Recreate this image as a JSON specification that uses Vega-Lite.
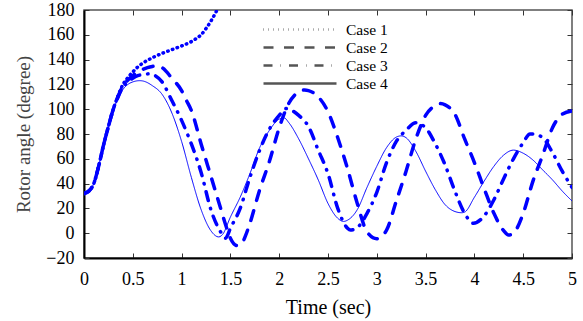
{
  "$schema": "https://vega.github.io/schema/vega-lite/v6.json",
  "width": 488,
  "height": 248,
  "autosize": "none",
  "padding": {"left": 84, "top": 10, "right": 11, "bottom": 63},
  "background": "white",
  "config": {
    "view": {"stroke": "#555", "strokeWidth": 1.5},
    "font": "Liberation Serif",
    "axis": {"labelFont": "Liberation Serif", "titleFont": "Liberation Serif"},
    "legend": {"labelFont": "Liberation Serif", "titleFont": "Liberation Serif"}
  },
  "datasets": {
    "curves": [
      {"case": "Case 1", "time": 0, "angle": 32}, {"case": "Case 1", "time": 0.05, "angle": 34}, {"case": "Case 1", "time": 0.1, "angle": 40}, {"case": "Case 1", "time": 0.15, "angle": 54}, {"case": "Case 1", "time": 0.2, "angle": 71}, {"case": "Case 1", "time": 0.25, "angle": 86}, {"case": "Case 1", "time": 0.3, "angle": 100}, {"case": "Case 1", "time": 0.35, "angle": 111}, {"case": "Case 1", "time": 0.4, "angle": 120}, {"case": "Case 1", "time": 0.45, "angle": 125.5}, {"case": "Case 1", "time": 0.5, "angle": 130}, {"case": "Case 1", "time": 0.55, "angle": 134}, {"case": "Case 1", "time": 0.6, "angle": 137}, {"case": "Case 1", "time": 0.7, "angle": 141.5}, {"case": "Case 1", "time": 0.8, "angle": 145}, {"case": "Case 1", "time": 0.9, "angle": 148}, {"case": "Case 1", "time": 1.0, "angle": 151}, {"case": "Case 1", "time": 1.1, "angle": 154.5}, {"case": "Case 1", "time": 1.15, "angle": 157}, {"case": "Case 1", "time": 1.2, "angle": 160}, {"case": "Case 1", "time": 1.25, "angle": 165}, {"case": "Case 1", "time": 1.3, "angle": 171}, {"case": "Case 1", "time": 1.35, "angle": 178}, {"case": "Case 1", "time": 1.4, "angle": 186},

      {"case": "Case 2", "time": 0, "angle": 32}, {"case": "Case 2", "time": 0.05, "angle": 34}, {"case": "Case 2", "time": 0.1, "angle": 40}, {"case": "Case 2", "time": 0.15, "angle": 54}, {"case": "Case 2", "time": 0.2, "angle": 71}, {"case": "Case 2", "time": 0.25, "angle": 86}, {"case": "Case 2", "time": 0.3, "angle": 100}, {"case": "Case 2", "time": 0.35, "angle": 110.5}, {"case": "Case 2", "time": 0.4, "angle": 119}, {"case": "Case 2", "time": 0.45, "angle": 123.5}, {"case": "Case 2", "time": 0.5, "angle": 127}, {"case": "Case 2", "time": 0.55, "angle": 130}, {"case": "Case 2", "time": 0.6, "angle": 132}, {"case": "Case 2", "time": 0.65, "angle": 133.5}, {"case": "Case 2", "time": 0.7, "angle": 134.5}, {"case": "Case 2", "time": 0.75, "angle": 135}, {"case": "Case 2", "time": 0.8, "angle": 133.5}, {"case": "Case 2", "time": 0.9, "angle": 125}, {"case": "Case 2", "time": 1.0, "angle": 115}, {"case": "Case 2", "time": 1.05, "angle": 107}, {"case": "Case 2", "time": 1.1, "angle": 99}, {"case": "Case 2", "time": 1.2, "angle": 72}, {"case": "Case 2", "time": 1.3, "angle": 46}, {"case": "Case 2", "time": 1.4, "angle": 20}, {"case": "Case 2", "time": 1.45, "angle": 7}, {"case": "Case 2", "time": 1.5, "angle": -4}, {"case": "Case 2", "time": 1.57, "angle": -10}, {"case": "Case 2", "time": 1.62, "angle": -8}, {"case": "Case 2", "time": 1.65, "angle": -3}, {"case": "Case 2", "time": 1.7, "angle": 8}, {"case": "Case 2", "time": 1.8, "angle": 35}, {"case": "Case 2", "time": 1.9, "angle": 58}, {"case": "Case 2", "time": 2.0, "angle": 85}, {"case": "Case 2", "time": 2.1, "angle": 105}, {"case": "Case 2", "time": 2.2, "angle": 114}, {"case": "Case 2", "time": 2.26, "angle": 115.5}, {"case": "Case 2", "time": 2.3, "angle": 115}, {"case": "Case 2", "time": 2.4, "angle": 110}, {"case": "Case 2", "time": 2.5, "angle": 98}, {"case": "Case 2", "time": 2.6, "angle": 77}, {"case": "Case 2", "time": 2.7, "angle": 52}, {"case": "Case 2", "time": 2.8, "angle": 24}, {"case": "Case 2", "time": 2.9, "angle": 1}, {"case": "Case 2", "time": 3.0, "angle": -4.5}, {"case": "Case 2", "time": 3.1, "angle": 2.5}, {"case": "Case 2", "time": 3.2, "angle": 26}, {"case": "Case 2", "time": 3.3, "angle": 50}, {"case": "Case 2", "time": 3.4, "angle": 76}, {"case": "Case 2", "time": 3.5, "angle": 95}, {"case": "Case 2", "time": 3.6, "angle": 103}, {"case": "Case 2", "time": 3.65, "angle": 104.5}, {"case": "Case 2", "time": 3.7, "angle": 103.5}, {"case": "Case 2", "time": 3.8, "angle": 96}, {"case": "Case 2", "time": 3.9, "angle": 76}, {"case": "Case 2", "time": 4.0, "angle": 57}, {"case": "Case 2", "time": 4.1, "angle": 36}, {"case": "Case 2", "time": 4.2, "angle": 16}, {"case": "Case 2", "time": 4.3, "angle": 2}, {"case": "Case 2", "time": 4.35, "angle": -1.5}, {"case": "Case 2", "time": 4.4, "angle": 0}, {"case": "Case 2", "time": 4.5, "angle": 16}, {"case": "Case 2", "time": 4.6, "angle": 42}, {"case": "Case 2", "time": 4.7, "angle": 63}, {"case": "Case 2", "time": 4.8, "angle": 85}, {"case": "Case 2", "time": 4.9, "angle": 96}, {"case": "Case 2", "time": 5.0, "angle": 98.5},

      {"case": "Case 3", "time": 0, "angle": 32}, {"case": "Case 3", "time": 0.05, "angle": 34}, {"case": "Case 3", "time": 0.1, "angle": 40}, {"case": "Case 3", "time": 0.15, "angle": 54}, {"case": "Case 3", "time": 0.2, "angle": 71}, {"case": "Case 3", "time": 0.25, "angle": 86}, {"case": "Case 3", "time": 0.3, "angle": 100}, {"case": "Case 3", "time": 0.35, "angle": 110}, {"case": "Case 3", "time": 0.4, "angle": 118}, {"case": "Case 3", "time": 0.45, "angle": 122}, {"case": "Case 3", "time": 0.5, "angle": 125}, {"case": "Case 3", "time": 0.55, "angle": 127}, {"case": "Case 3", "time": 0.6, "angle": 128}, {"case": "Case 3", "time": 0.66, "angle": 128.5}, {"case": "Case 3", "time": 0.7, "angle": 128}, {"case": "Case 3", "time": 0.8, "angle": 122}, {"case": "Case 3", "time": 0.9, "angle": 107}, {"case": "Case 3", "time": 1.0, "angle": 91}, {"case": "Case 3", "time": 1.07, "angle": 78}, {"case": "Case 3", "time": 1.1, "angle": 72}, {"case": "Case 3", "time": 1.2, "angle": 49}, {"case": "Case 3", "time": 1.3, "angle": 19}, {"case": "Case 3", "time": 1.4, "angle": 1}, {"case": "Case 3", "time": 1.45, "angle": -4}, {"case": "Case 3", "time": 1.5, "angle": 4}, {"case": "Case 3", "time": 1.6, "angle": 20}, {"case": "Case 3", "time": 1.7, "angle": 45}, {"case": "Case 3", "time": 1.8, "angle": 67}, {"case": "Case 3", "time": 1.9, "angle": 84}, {"case": "Case 3", "time": 2.0, "angle": 95}, {"case": "Case 3", "time": 2.07, "angle": 100.5}, {"case": "Case 3", "time": 2.1, "angle": 100}, {"case": "Case 3", "time": 2.2, "angle": 95}, {"case": "Case 3", "time": 2.3, "angle": 86}, {"case": "Case 3", "time": 2.4, "angle": 67}, {"case": "Case 3", "time": 2.5, "angle": 48}, {"case": "Case 3", "time": 2.6, "angle": 20}, {"case": "Case 3", "time": 2.7, "angle": 4}, {"case": "Case 3", "time": 2.73, "angle": 2.5}, {"case": "Case 3", "time": 2.8, "angle": 4.5}, {"case": "Case 3", "time": 2.9, "angle": 16}, {"case": "Case 3", "time": 3.0, "angle": 33}, {"case": "Case 3", "time": 3.1, "angle": 57}, {"case": "Case 3", "time": 3.2, "angle": 74}, {"case": "Case 3", "time": 3.3, "angle": 83}, {"case": "Case 3", "time": 3.4, "angle": 89}, {"case": "Case 3", "time": 3.5, "angle": 85}, {"case": "Case 3", "time": 3.6, "angle": 72}, {"case": "Case 3", "time": 3.7, "angle": 55}, {"case": "Case 3", "time": 3.8, "angle": 34}, {"case": "Case 3", "time": 3.9, "angle": 16}, {"case": "Case 3", "time": 3.99, "angle": 8}, {"case": "Case 3", "time": 4.1, "angle": 14}, {"case": "Case 3", "time": 4.2, "angle": 27}, {"case": "Case 3", "time": 4.3, "angle": 44}, {"case": "Case 3", "time": 4.4, "angle": 60}, {"case": "Case 3", "time": 4.5, "angle": 73}, {"case": "Case 3", "time": 4.57, "angle": 80}, {"case": "Case 3", "time": 4.6, "angle": 80}, {"case": "Case 3", "time": 4.7, "angle": 77}, {"case": "Case 3", "time": 4.8, "angle": 65}, {"case": "Case 3", "time": 4.9, "angle": 50}, {"case": "Case 3", "time": 5.0, "angle": 37},

      {"case": "Case 4", "time": 0, "angle": 32}, {"case": "Case 4", "time": 0.05, "angle": 34}, {"case": "Case 4", "time": 0.1, "angle": 40}, {"case": "Case 4", "time": 0.15, "angle": 54}, {"case": "Case 4", "time": 0.2, "angle": 71}, {"case": "Case 4", "time": 0.25, "angle": 86}, {"case": "Case 4", "time": 0.3, "angle": 99}, {"case": "Case 4", "time": 0.35, "angle": 109}, {"case": "Case 4", "time": 0.4, "angle": 116}, {"case": "Case 4", "time": 0.45, "angle": 120}, {"case": "Case 4", "time": 0.5, "angle": 122}, {"case": "Case 4", "time": 0.57, "angle": 123}, {"case": "Case 4", "time": 0.6, "angle": 122.8}, {"case": "Case 4", "time": 0.7, "angle": 119}, {"case": "Case 4", "time": 0.8, "angle": 112}, {"case": "Case 4", "time": 0.9, "angle": 97}, {"case": "Case 4", "time": 1.0, "angle": 74}, {"case": "Case 4", "time": 1.1, "angle": 45}, {"case": "Case 4", "time": 1.2, "angle": 19}, {"case": "Case 4", "time": 1.3, "angle": 2}, {"case": "Case 4", "time": 1.38, "angle": -3}, {"case": "Case 4", "time": 1.42, "angle": -1}, {"case": "Case 4", "time": 1.5, "angle": 13}, {"case": "Case 4", "time": 1.6, "angle": 29}, {"case": "Case 4", "time": 1.7, "angle": 48}, {"case": "Case 4", "time": 1.8, "angle": 69}, {"case": "Case 4", "time": 1.9, "angle": 83}, {"case": "Case 4", "time": 2.0, "angle": 92}, {"case": "Case 4", "time": 2.05, "angle": 93}, {"case": "Case 4", "time": 2.1, "angle": 89}, {"case": "Case 4", "time": 2.2, "angle": 76}, {"case": "Case 4", "time": 2.3, "angle": 60}, {"case": "Case 4", "time": 2.4, "angle": 43}, {"case": "Case 4", "time": 2.5, "angle": 24}, {"case": "Case 4", "time": 2.6, "angle": 12}, {"case": "Case 4", "time": 2.66, "angle": 9.5}, {"case": "Case 4", "time": 2.7, "angle": 10.5}, {"case": "Case 4", "time": 2.8, "angle": 19}, {"case": "Case 4", "time": 2.9, "angle": 37}, {"case": "Case 4", "time": 3.0, "angle": 54}, {"case": "Case 4", "time": 3.1, "angle": 69}, {"case": "Case 4", "time": 3.2, "angle": 77.5}, {"case": "Case 4", "time": 3.25, "angle": 78.5}, {"case": "Case 4", "time": 3.3, "angle": 77}, {"case": "Case 4", "time": 3.4, "angle": 66}, {"case": "Case 4", "time": 3.5, "angle": 50}, {"case": "Case 4", "time": 3.6, "angle": 35}, {"case": "Case 4", "time": 3.7, "angle": 23}, {"case": "Case 4", "time": 3.8, "angle": 17.5}, {"case": "Case 4", "time": 3.87, "angle": 16.5}, {"case": "Case 4", "time": 3.9, "angle": 17}, {"case": "Case 4", "time": 4.0, "angle": 29}, {"case": "Case 4", "time": 4.1, "angle": 42}, {"case": "Case 4", "time": 4.2, "angle": 54}, {"case": "Case 4", "time": 4.3, "angle": 63}, {"case": "Case 4", "time": 4.4, "angle": 67}, {"case": "Case 4", "time": 4.5, "angle": 64.5}, {"case": "Case 4", "time": 4.6, "angle": 59}, {"case": "Case 4", "time": 4.7, "angle": 51}, {"case": "Case 4", "time": 4.8, "angle": 43}, {"case": "Case 4", "time": 4.9, "angle": 34}, {"case": "Case 4", "time": 5.0, "angle": 26}
    ]
  },
  "data": {"name": "curves"},
  "layer": [
    {
      "transform": [{"filter": "datum.case != 'Case 4'"}],
      "mark": {"type": "line", "color": "#0000ff", "strokeWidth": 3.5, "strokeCap": "round", "interpolate": "monotone", "clip": true},
      "encoding": {
        "x": {
          "field": "time", "type": "quantitative",
          "scale": {"domain": [0, 5], "nice": false},
          "axis": {
            "orient": "bottom", "values": [0, 0.5, 1, 1.5, 2, 2.5, 3, 3.5, 4, 4.5, 5], "format": "~g",
            "title": "Time (sec)", "titleFont": "Liberation Serif", "titleFontSize": 20, "titleFontWeight": "normal", "titleColor": "#000", "titlePadding": 9,
            "labelFont": "Liberation Serif", "labelFontSize": 18, "labelColor": "#000", "labelPadding": 17, "labelFlush": false, "labelOverlap": false,
            "tickSize": -5, "tickColor": "#333", "domainColor": "#000", "domainWidth": 2, "grid": false
          }
        },
        "y": {
          "field": "angle", "type": "quantitative",
          "scale": {"domain": [-20, 180], "nice": false},
          "axis": {
            "orient": "left", "values": [-20, 0, 20, 40, 60, 80, 100, 120, 140, 160, 180],
            "title": "Rotor angle (degree)", "titleFont": "Liberation Serif", "titleFontSize": 19, "titleFontWeight": "normal", "titleColor": "#444", "titlePadding": 12,
            "labelFont": "Liberation Serif", "labelFontSize": 18, "labelColor": "#000", "labelPadding": 15, "labelFlush": false, "labelOverlap": false, "labelDy": 2,
            "tickSize": -5, "tickColor": "#333", "domainColor": "#000", "domainWidth": 2, "grid": false
          }
        },
        "strokeDash": {
          "field": "case", "type": "nominal",
          "scale": {"domain": ["Case 1", "Case 2", "Case 3", "Case 4"], "range": [[0.5, 4.5], [10, 10.5], [9, 8, 0.5, 8], [1, 0]]},
          "legend": {
            "title": null, "orient": "none", "legendX": 178, "legendY": 12, "padding": 0,
            "symbolType": "stroke", "symbolSize": 5329, "symbolStrokeColor": "#555", "symbolStrokeWidth": 2.5, "clipHeight": 15, "rowPadding": 2, "labelOffset": 8,
            "labelFont": "Liberation Serif", "labelFontSize": 15.5, "labelColor": "#000",
            "encode": {"symbols": {
              "update": {"stroke": {"value": "#555"}, "strokeWidth": {"value": 2.5}, "strokeCap": {"value": "butt"}, "strokeDash": {"signal": "datum.value === 'Case 1' ? [2, 1.5] : datum.value === 'Case 2' ? [12, 8] : datum.value === 'Case 3' ? [12, 5, 3, 5] : [1, 0]"}}
            }}
          }
        }
      }
    },
    {
      "transform": [{"filter": "datum.case == 'Case 4'"}],
      "mark": {"type": "line", "color": "#0000ff", "strokeWidth": 1, "interpolate": "monotone", "clip": true},
      "encoding": {
        "x": {
          "field": "time", "type": "quantitative",
          "scale": {"domain": [0, 5], "nice": false},
          "axis": {"orient": "top", "values": [0, 0.5, 1, 1.5, 2, 2.5, 3, 3.5, 4, 4.5, 5], "labels": false, "title": null, "domain": false, "tickSize": -5, "tickColor": "#333", "grid": false}
        },
        "y": {
          "field": "angle", "type": "quantitative",
          "scale": {"domain": [-20, 180], "nice": false},
          "axis": {"orient": "right", "values": [-20, 0, 20, 40, 60, 80, 100, 120, 140, 160, 180], "labels": false, "title": null, "domain": false, "tickSize": -5, "tickColor": "#333", "grid": false}
        },
        "strokeDash": {
          "field": "case", "type": "nominal",
          "scale": {"domain": ["Case 1", "Case 2", "Case 3", "Case 4"], "range": [[0.5, 4.5], [10, 10.5], [9, 8, 0.5, 8], [1, 0]]}
        }
      }
    }
  ],
  "resolve": {"axis": {"x": "independent", "y": "independent"}}
}
